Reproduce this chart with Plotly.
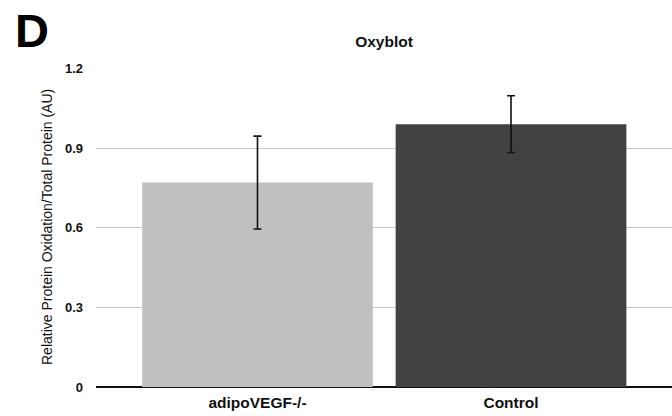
import plotly.graph_objects as go

# Oxyblot quantification
groups = ["adipoVEGF-/-", "Control"]
means = [0.77, 0.99]
errors = [0.175, 0.107]
bar_colors = ["#c0c0c0", "#424242"]

y_ticks = [0, 0.3, 0.6, 0.9, 1.2]
y_tick_text = ["0", "0.3", "0.6", "0.9", "1.2"]

font_family = "Liberation Sans, Arial, Helvetica, sans-serif"

# plot area in pixels
L, R, T, B = 96, 672, 68, 387
W, H = R - L, B - T

fig = go.Figure(
    go.Bar(
        x=groups,
        y=means,
        marker=dict(color=bar_colors, line=dict(width=0)),
        error_y=dict(type="data", array=errors, visible=True,
                     color="#111111", thickness=1.6, width=4),
        width=0.91,
    )
)

fig.update_layout(
    width=672,
    height=416,
    margin=dict(l=L, r=672 - R, t=T, b=416 - B),
    paper_bgcolor="white",
    plot_bgcolor="white",
    showlegend=False,
    font=dict(family=font_family, color="#111111"),
    title=dict(text="<b>Oxyblot</b>", x=0.5 * (L + R) / 672, xanchor="center",
               y=1 - 42 / 416, yanchor="middle",
               font=dict(size=15.5, family=font_family)),
    xaxis=dict(
        range=[-0.637, 1.635],
        showgrid=False,
        showline=False,
        zeroline=False,
        ticks="",
        tickfont=dict(size=15.5, family=font_family),
        tickvals=[0, 1],
        ticktext=["<b>" + g + "</b>" for g in groups],
        ticklabelstandoff=4,
    ),
    yaxis=dict(
        range=[0, 1.2015],
        tickvals=y_ticks,
        ticktext=["<b>" + t + "</b>" for t in y_tick_text],
        tickfont=dict(size=13, family=font_family),
        ticklabelstandoff=12,
        showgrid=True,
        gridcolor="#c4c4c4",
        gridwidth=1,
        zeroline=True,
        zerolinecolor="#111111",
        zerolinewidth=1.5,
        showline=False,
        ticks="",
    ),
    annotations=[
        dict(text="<b>D</b>", x=(13 - L) / W, y=(B - 30) / H, xref="paper", yref="paper",
             xanchor="left", yanchor="middle", showarrow=False,
             font=dict(size=47, family=font_family, color="#000000")),
        dict(text="Relative Protein Oxidation/Total Protein (AU)", textangle=-90,
             x=(47 - L) / W, y=(B - 227) / H, xref="paper", yref="paper",
             xanchor="center", yanchor="middle", showarrow=False,
             font=dict(size=14, family=font_family, color="#111111")),
    ],
)

fig.write_html("out.html")
